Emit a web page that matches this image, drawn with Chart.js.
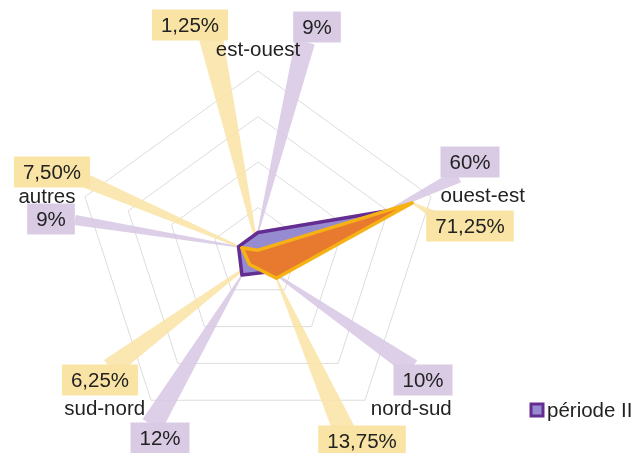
<!DOCTYPE html>
<html>
<head>
<meta charset="utf-8">
<script src="https://cdn.jsdelivr.net/npm/chart.js@4"></script>
<style>
  html, body { margin: 0; padding: 0; background: #fff; }
  #wrap { width: 635px; height: 453px; }
</style>
</head>
<body>
<div id="wrap"><canvas id="radar"></canvas></div>
<script>
const directions = ["est-ouest", "ouest-est", "nord-sud", "sud-nord", "autres"];
const periodeI = [1.25, 71.25, 13.75, 6.25, 7.5];
const periodeII = [9, 60, 10, 12, 9];
const seriesNames = ["période I", "période II"];
const axisMax = 80;
const axisStep = 20;

// where each value box sits (centre) and where its leader leaves the box [x, y, base width]
const boxesI = [[190, 25], [470, 226], [362, 441], [100, 380], [52, 172]];
const leadsI = [[211, 38, 24], [440, 218, 10], [344, 430, 22], [110, 368, 20], [86, 181, 14]];
const boxesII = [[317, 27], [470, 162], [423, 380], [160, 438], [51, 219]];
const leadsII = [[305, 42, 20], [458, 176, 14], [412, 368, 18], [152, 425, 22], [75, 220, 10]];

const FONT = "20.5px 'Liberation Sans', Arial, sans-serif";
const TEXT = "#222";
const boxColors = ["rgb(249,228,165)", "rgb(218,203,229)"];
const leadColors = ["rgba(249,228,168,0.9)", "rgba(216,202,228,0.9)"];

function fmt(d, v) {
  if (d === 0) return v.toFixed(2).replace(".", ",") + "%";
  return String(Math.round(v)) + "%";
}

function wedge(ctx, ax, ay, tx, ty, w) {
  const dx = tx - ax, dy = ty - ay;
  const len = Math.hypot(dx, dy);
  const nx = -dy / len, ny = dx / len;
  ctx.beginPath();
  ctx.moveTo(ax + nx * w / 2, ay + ny * w / 2);
  ctx.lineTo(tx + nx * 0.8, ty + ny * 0.8);
  ctx.lineTo(tx - nx * 0.8, ty - ny * 0.8);
  ctx.lineTo(ax - nx * w / 2, ay - ny * w / 2);
  ctx.closePath();
  ctx.fill();
}

const callouts = {
  id: "callouts",
  beforeDatasetsDraw(chart) {
    const ctx = chart.ctx;
    const leads = [leadsI, leadsII];
    ctx.save();
    for (let d = 1; d >= 0; d--) {
      const meta = chart.getDatasetMeta(d);
      ctx.fillStyle = leadColors[d];
      meta.data.forEach((pt, i) => {
        const a = leads[d][i];
        wedge(ctx, a[0], a[1], pt.x, pt.y, a[2]);
      });
    }
    ctx.restore();
  },
  afterDatasetsDraw(chart) {
    const ctx = chart.ctx;
    const r = chart.scales.r;
    const boxes = [boxesI, boxesII];
    ctx.save();
    ctx.font = FONT;

    // direction names just outside the outer ring
    const aligns = [["center", "bottom", 0], ["left", "middle", 3], ["left", "middle", 1], ["right", "middle", 1], ["right", "middle", 4]];
    directions.forEach((name, i) => {
      const p = r.getPointPosition(i, r.drawingArea + 10);
      ctx.textAlign = aligns[i][0];
      ctx.textBaseline = aligns[i][1];
      ctx.fillStyle = TEXT;
      ctx.fillText(name, p.x, p.y + aligns[i][2]);
    });

    // value boxes
    ctx.textAlign = "center";
    ctx.textBaseline = "middle";
    chart.data.datasets.forEach((ds, d) => {
      ds.data.forEach((v, i) => {
        const label = fmt(d, v);
        const w = ctx.measureText(label).width + 18;
        const h = 31;
        const c = boxes[d][i];
        ctx.fillStyle = boxColors[d];
        ctx.fillRect(c[0] - w / 2, c[1] - h / 2, w, h);
        ctx.fillStyle = TEXT;
        ctx.fillText(label, c[0], c[1] + 1);
      });
    });

    // legend entry for the second period
    const ds = chart.data.datasets[1];
    ctx.fillStyle = ds.backgroundColor;
    ctx.strokeStyle = ds.borderColor;
    ctx.lineWidth = 3;
    ctx.fillRect(531, 404, 12, 12);
    ctx.strokeRect(531, 404, 12, 12);
    ctx.textAlign = "left";
    ctx.fillStyle = TEXT;
    ctx.fillText(ds.label, 547, 411);
    ctx.restore();
  }
};

new Chart("radar", {
  type: "radar",
  data: {
    labels: directions,
    datasets: [{
      label: seriesNames[0],
      data: periodeI,
      backgroundColor: "#e87a30",
      borderColor: "#f6b214",
      borderWidth: 3.5,
      borderJoinStyle: "round",
      pointRadius: 0,
      fill: true
    },
    {
      label: seriesNames[1],
      data: periodeII,
      backgroundColor: "#968bd0",
      borderColor: "#642d91",
      borderWidth: 3.5,
      borderJoinStyle: "round",
      pointRadius: 0,
      fill: true
    }]
  },
  options: {
    responsive: true,
    maintainAspectRatio: false,
    animation: false,
    layout: { padding: { left: 76, top: 71, right: 195, bottom: 18 } },
    plugins: {
      legend: { display: false },
      tooltip: { enabled: false }
    },
    scales: {
      r: {
        min: 0,
        max: axisMax,
        ticks: { stepSize: axisStep, display: false },
        grid: { color: "#dcdcdc", lineWidth: 1 },
        angleLines: { display: false },
        pointLabels: { display: false }
      }
    }
  },
  plugins: [callouts]
});
</script>
</body>
</html>
